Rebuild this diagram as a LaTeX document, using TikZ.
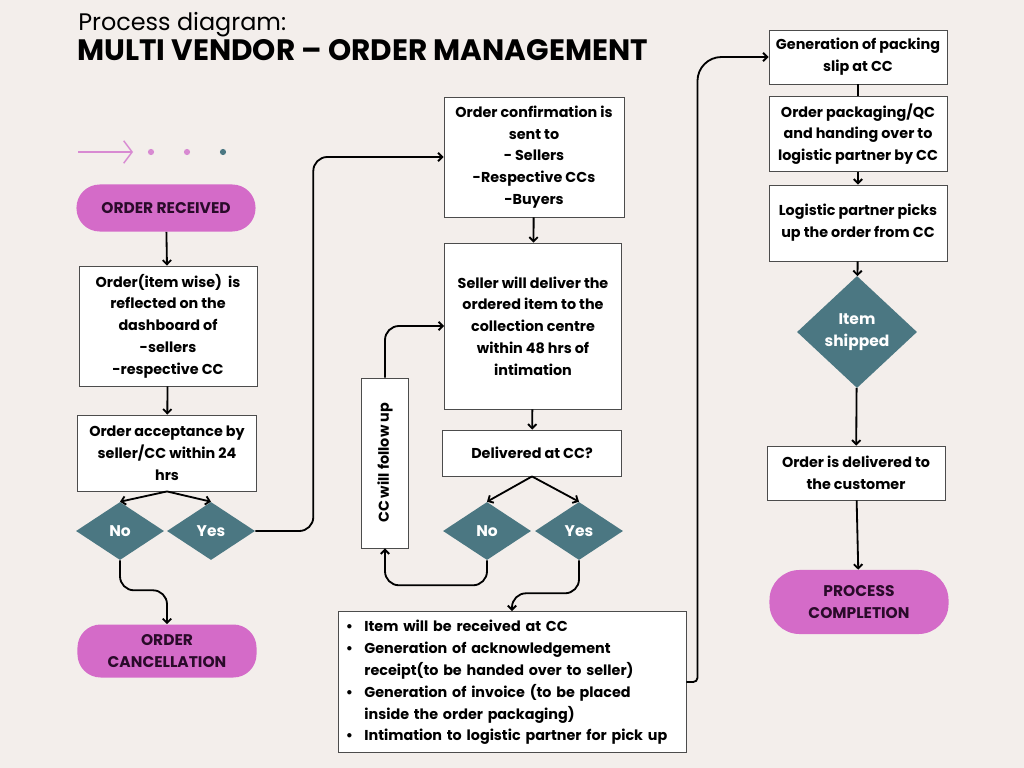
\documentclass[tikz,border=0pt]{standalone}
\usepackage{fontspec}
\setmainfont{Poppins}
\usetikzlibrary{shapes.geometric,arrows.meta,positioning}
\definecolor{bgcol}{HTML}{F3EEEB}
\definecolor{pinkcol}{HTML}{D46BC8}
\definecolor{tealcol}{HTML}{4B7782}
\definecolor{darktxt}{HTML}{2A0B2A}
\definecolor{lilac}{HTML}{D88AD2}

\begin{document}
\begin{tikzpicture}[x=0.025cm,y=-0.025cm,>={Straight Barb[length=3pt,width=6pt]},
  box/.style={draw=black!70,fill=white,line width=0.6pt,align=center,inner sep=2pt,
    font=\bfseries\fontsize{10.2}{15.5}\selectfont,minimum width=4.45cm},
  pill/.style={fill=pinkcol,rounded corners=0.58cm,align=center,text=darktxt,
    font=\bfseries\fontsize{11}{15.5}\selectfont,minimum width=4.475cm,minimum height=1.175cm},
  diam/.style={diamond,fill=tealcol,text=white,align=center,inner sep=0pt,
    font=\bfseries\fontsize{11}{15.5}\selectfont,minimum width=2.2cm,minimum height=1.45cm},
  line/.style={->,line width=1.3pt,rounded corners=0.35cm}]

\fill[bgcol] (0,0) rectangle (1024,768);
\useasboundingbox (0,0) rectangle (1024,768);

% title
\node[anchor=north west,inner sep=0pt,font=\fontsize{17}{20}\selectfont] (title) at (78,12) {Process diagram:};
\node[anchor=north west,inner sep=0pt,font=\bfseries\fontsize{21}{24}\selectfont] (subtitle) at (77,39) {MULTI VENDOR – ORDER MANAGEMENT};

\draw[lilac,line width=1pt,-{Straight Barb[length=6pt,width=16pt]}] (78,152) -- (133,152);
\fill[lilac] (151,152) circle (2.2pt);
\fill[lilac] (187,152) circle (2.2pt);
\fill[tealcol] (223,152) circle (2.2pt);

% left column
\node[pill] (recv) at (166,208) {ORDER RECEIVED};
\node[box,minimum height=3cm] (refl) at (168,326) {Order(item wise)\ \ is\\reflected on the\\dashboard of\\-sellers\\-respective CC};
\node[box,minimum width=4.475cm,minimum height=1.9cm] (accept) at (167,453) {Order acceptance by\\seller/CC within 24\\hrs};
\node[diam] (no1) at (120,531) {No};
\node[diam] (yes1) at (211,531) {Yes};
\node[pill,minimum height=1.325cm] (cancel) at (167,651) {ORDER\\CANCELLATION};

% middle column
\node[box,minimum width=4.5cm,minimum height=3cm] (conf) at (534,157) {Order confirmation is\\sent to\\- Sellers\\-Respective CCs\\-Buyers};
\node[box,minimum width=4.425cm,minimum height=4.15cm] (deliver) at (533,326) {Seller will deliver the\\ordered item to the\\collection centre\\within 48 hrs of\\intimation};
\node[box,minimum width=4.475cm,minimum height=1.15cm] (atcc) at (532,453) {Delivered at CC?};
\node[diam] (no2) at (487,531) {No};
\node[diam] (yes2) at (579,531) {Yes};
\node[box,minimum width=1.175cm,minimum height=4.25cm] (follow) at (385,463) {\rotatebox{90}{CC will follow up}};
\node[box,minimum width=8.7cm,minimum height=3.525cm,text width=8.3cm,align=left] (steps) at (512,682) {%
  \begin{tabular}{@{}c@{\hspace{8pt}}l@{}}
  \textbullet & Item will be received at CC\\
  \textbullet & Generation of acknowledgement\\
              & receipt(to be handed over to seller)\\
  \textbullet & Generation of invoice (to be placed\\
              & inside the order packaging)\\
  \textbullet & Intimation to logistic partner for pick up
  \end{tabular}};

% right column
\node[box,minimum height=1.35cm] (slip) at (858,57) {Generation of packing\\slip at CC};
\node[box,minimum height=1.875cm] (pack) at (858,134) {Order packaging/QC\\and handing over to\\logistic partner by CC};
\node[box,minimum height=1.9cm] (pick) at (858,223) {Logistic partner picks\\up the order from CC};
\node[diam,minimum width=3cm,minimum height=2.8cm] (ship) at (857,332) {Item\\shipped};
\node[box,minimum height=1.35cm] (cust) at (856,473) {Order is delivered to\\the customer};
\node[pill,minimum height=1.6cm,rounded corners=0.75cm] (done) at (859,602) {PROCESS\\COMPLETION};

\draw[line] (recv) -- (refl);
\draw[line] (refl) -- (accept);
\draw[line] (accept.south) -- (no1.north);
\draw[line] (accept.south) -- (yes1.north);
\draw[line] (no1.south) -- ++(0,30) -| (cancel.north);
\draw[line] (yes1.east) -- ++(58,0) |- (conf.west);
\draw[line] (conf) -- (deliver);
\draw[line] (deliver) -- (atcc);
\draw[line] (atcc.south) -- (no2.north);
\draw[line] (atcc.south) -- (yes2.north);
\draw[line] (no2.south) -- ++(0,25) -| (follow.south);
\draw[line] (follow.north) |- (deliver.west);
\draw[line] (yes2.south) -- ++(0,33) -| (steps.north);
\draw[line] (steps.east) [rounded corners=3pt] -- ++(11,0) [rounded corners=0.6cm] |- (slip.west);
\draw[line,-] (slip) -- (pack);
\draw[line] (pack) -- (pick);
\draw[line] (pick) -- (ship);
\draw[line] (ship) -- (cust);
\draw[line] (cust) -- (done);
\end{tikzpicture}
\end{document}
